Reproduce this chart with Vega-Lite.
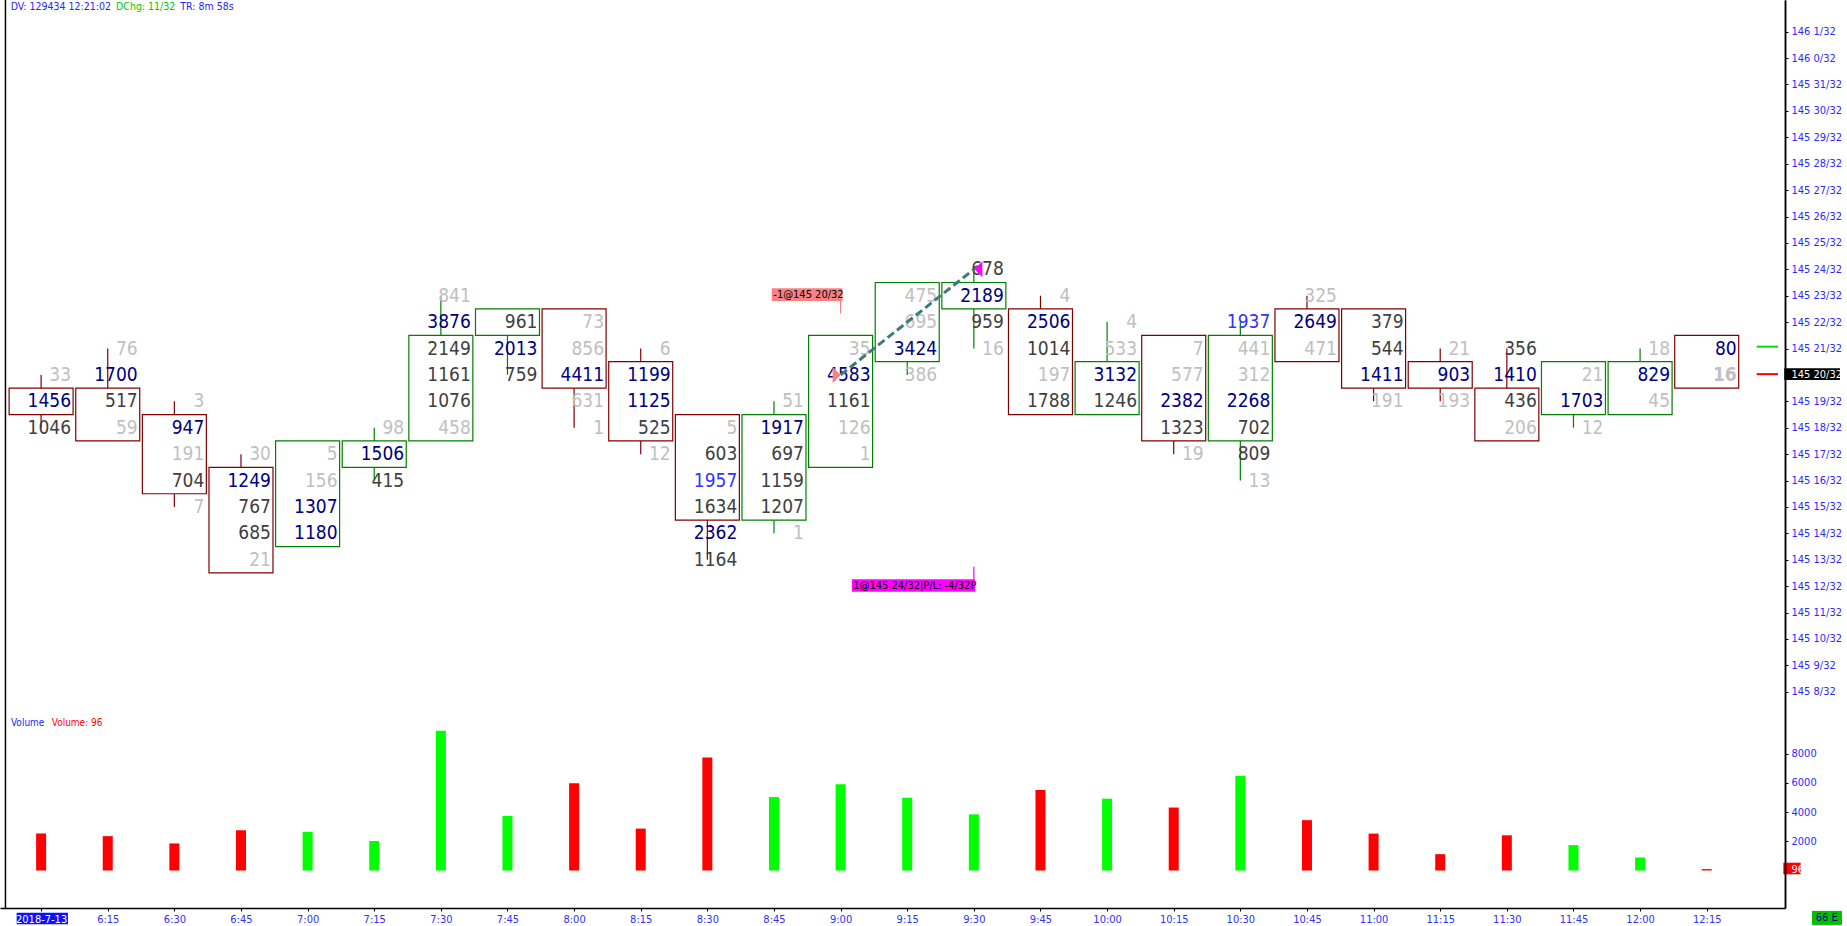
{
  "$schema": "https://vega.github.io/schema/vega-lite/v6.json",
  "width": 1785,
  "height": 908,
  "autosize": {"type": "none"},
  "padding": {"left": 0, "top": 0, "right": 62, "bottom": 18},
  "background": "white",
  "config": {
    "view": {"stroke": null},
    "font": "DejaVu Sans Condensed, DejaVu Sans",
    "axis": {"labelOverlap": false, "labelFlush": false, "grid": false, "title": null, "labelFont": "DejaVu Sans Condensed, DejaVu Sans", "labelFontSize": 11, "tickColor": "black", "domainColor": "black", "domainWidth": 1.5, "tickSize": 3}
  },
  "datasets": {
    "candles": [
      {"i":0,"t":"6:00","dir":"down","top":4659,"bot":4659,"hi":4660,"lo":4658,"vol":2535},
      {"i":1,"t":"6:15","dir":"down","top":4659,"bot":4658,"hi":4661,"lo":4658,"vol":2352},
      {"i":2,"t":"6:30","dir":"down","top":4658,"bot":4656,"hi":4659,"lo":4655,"vol":1852},
      {"i":3,"t":"6:45","dir":"down","top":4656,"bot":4653,"hi":4657,"lo":4653,"vol":2752},
      {"i":4,"t":"7:00","dir":"up","top":4657,"bot":4654,"hi":4657,"lo":4654,"vol":2648},
      {"i":5,"t":"7:15","dir":"up","top":4657,"bot":4657,"hi":4658,"lo":4656,"vol":2019},
      {"i":6,"t":"7:30","dir":"up","top":4661,"bot":4658,"hi":4663,"lo":4658,"vol":9561},
      {"i":7,"t":"7:45","dir":"up","top":4662,"bot":4662,"hi":4662,"lo":4660,"vol":3733},
      {"i":8,"t":"8:00","dir":"down","top":4662,"bot":4660,"hi":4662,"lo":4658,"vol":5972},
      {"i":9,"t":"8:15","dir":"down","top":4660,"bot":4658,"hi":4661,"lo":4657,"vol":2867},
      {"i":10,"t":"8:30","dir":"down","top":4658,"bot":4655,"hi":4658,"lo":4653,"vol":7725},
      {"i":11,"t":"8:45","dir":"up","top":4658,"bot":4655,"hi":4659,"lo":4654,"vol":5032},
      {"i":12,"t":"9:00","dir":"up","top":4661,"bot":4657,"hi":4661,"lo":4657,"vol":5906},
      {"i":13,"t":"9:15","dir":"up","top":4663,"bot":4661,"hi":4663,"lo":4660,"vol":4980},
      {"i":14,"t":"9:30","dir":"up","top":4663,"bot":4663,"hi":4664,"lo":4661,"vol":3842},
      {"i":15,"t":"9:45","dir":"down","top":4662,"bot":4659,"hi":4663,"lo":4659,"vol":5509},
      {"i":16,"t":"10:00","dir":"up","top":4660,"bot":4659,"hi":4662,"lo":4659,"vol":4915},
      {"i":17,"t":"10:15","dir":"down","top":4661,"bot":4658,"hi":4661,"lo":4657,"vol":4308},
      {"i":18,"t":"10:30","dir":"up","top":4661,"bot":4658,"hi":4662,"lo":4656,"vol":6482},
      {"i":19,"t":"10:45","dir":"down","top":4662,"bot":4661,"hi":4663,"lo":4661,"vol":3445},
      {"i":20,"t":"11:00","dir":"down","top":4662,"bot":4660,"hi":4662,"lo":4659,"vol":2525},
      {"i":21,"t":"11:15","dir":"down","top":4660,"bot":4660,"hi":4661,"lo":4659,"vol":1117},
      {"i":22,"t":"11:30","dir":"down","top":4659,"bot":4658,"hi":4661,"lo":4658,"vol":2408},
      {"i":23,"t":"11:45","dir":"up","top":4660,"bot":4659,"hi":4660,"lo":4658,"vol":1736},
      {"i":24,"t":"12:00","dir":"up","top":4660,"bot":4659,"hi":4661,"lo":4659,"vol":892},
      {"i":25,"t":"12:15","dir":"down","top":4661,"bot":4660,"hi":4661,"lo":4660,"vol":96}
    ],
    "cells": [
      {"i":0,"p":4660,"v":33,"c":"g"},{"i":0,"p":4659,"v":1456,"c":"n"},{"i":0,"p":4658,"v":1046,"c":"d"},
      {"i":1,"p":4661,"v":76,"c":"g"},{"i":1,"p":4660,"v":1700,"c":"n"},{"i":1,"p":4659,"v":517,"c":"d"},{"i":1,"p":4658,"v":59,"c":"g"},
      {"i":2,"p":4659,"v":3,"c":"g"},{"i":2,"p":4658,"v":947,"c":"n"},{"i":2,"p":4657,"v":191,"c":"g"},{"i":2,"p":4656,"v":704,"c":"d"},{"i":2,"p":4655,"v":7,"c":"g"},
      {"i":3,"p":4657,"v":30,"c":"g"},{"i":3,"p":4656,"v":1249,"c":"n"},{"i":3,"p":4655,"v":767,"c":"d"},{"i":3,"p":4654,"v":685,"c":"d"},{"i":3,"p":4653,"v":21,"c":"g"},
      {"i":4,"p":4657,"v":5,"c":"g"},{"i":4,"p":4656,"v":156,"c":"g"},{"i":4,"p":4655,"v":1307,"c":"n"},{"i":4,"p":4654,"v":1180,"c":"n"},
      {"i":5,"p":4658,"v":98,"c":"g"},{"i":5,"p":4657,"v":1506,"c":"n"},{"i":5,"p":4656,"v":415,"c":"d"},
      {"i":6,"p":4663,"v":841,"c":"g"},{"i":6,"p":4662,"v":3876,"c":"n"},{"i":6,"p":4661,"v":2149,"c":"d"},{"i":6,"p":4660,"v":1161,"c":"d"},{"i":6,"p":4659,"v":1076,"c":"d"},{"i":6,"p":4658,"v":458,"c":"g"},
      {"i":7,"p":4662,"v":961,"c":"d"},{"i":7,"p":4661,"v":2013,"c":"n"},{"i":7,"p":4660,"v":759,"c":"d"},
      {"i":8,"p":4662,"v":73,"c":"g"},{"i":8,"p":4661,"v":856,"c":"g"},{"i":8,"p":4660,"v":4411,"c":"n"},{"i":8,"p":4659,"v":631,"c":"g"},{"i":8,"p":4658,"v":1,"c":"g"},
      {"i":9,"p":4661,"v":6,"c":"g"},{"i":9,"p":4660,"v":1199,"c":"n"},{"i":9,"p":4659,"v":1125,"c":"n"},{"i":9,"p":4658,"v":525,"c":"d"},{"i":9,"p":4657,"v":12,"c":"g"},
      {"i":10,"p":4658,"v":5,"c":"g"},{"i":10,"p":4657,"v":603,"c":"d"},{"i":10,"p":4656,"v":1957,"c":"b"},{"i":10,"p":4655,"v":1634,"c":"d"},{"i":10,"p":4654,"v":2362,"c":"n"},{"i":10,"p":4653,"v":1164,"c":"d"},
      {"i":11,"p":4659,"v":51,"c":"g"},{"i":11,"p":4658,"v":1917,"c":"n"},{"i":11,"p":4657,"v":697,"c":"d"},{"i":11,"p":4656,"v":1159,"c":"d"},{"i":11,"p":4655,"v":1207,"c":"d"},{"i":11,"p":4654,"v":1,"c":"g"},
      {"i":12,"p":4661,"v":35,"c":"g"},{"i":12,"p":4660,"v":4583,"c":"n"},{"i":12,"p":4659,"v":1161,"c":"d"},{"i":12,"p":4658,"v":126,"c":"g"},{"i":12,"p":4657,"v":1,"c":"g"},
      {"i":13,"p":4663,"v":475,"c":"g"},{"i":13,"p":4662,"v":695,"c":"g"},{"i":13,"p":4661,"v":3424,"c":"n"},{"i":13,"p":4660,"v":386,"c":"g"},
      {"i":14,"p":4664,"v":678,"c":"d"},{"i":14,"p":4663,"v":2189,"c":"n"},{"i":14,"p":4662,"v":959,"c":"d"},{"i":14,"p":4661,"v":16,"c":"g"},
      {"i":15,"p":4663,"v":4,"c":"g"},{"i":15,"p":4662,"v":2506,"c":"n"},{"i":15,"p":4661,"v":1014,"c":"d"},{"i":15,"p":4660,"v":197,"c":"g"},{"i":15,"p":4659,"v":1788,"c":"d"},
      {"i":16,"p":4662,"v":4,"c":"g"},{"i":16,"p":4661,"v":533,"c":"g"},{"i":16,"p":4660,"v":3132,"c":"n"},{"i":16,"p":4659,"v":1246,"c":"d"},
      {"i":17,"p":4661,"v":7,"c":"g"},{"i":17,"p":4660,"v":577,"c":"g"},{"i":17,"p":4659,"v":2382,"c":"n"},{"i":17,"p":4658,"v":1323,"c":"d"},{"i":17,"p":4657,"v":19,"c":"g"},
      {"i":18,"p":4662,"v":1937,"c":"b"},{"i":18,"p":4661,"v":441,"c":"g"},{"i":18,"p":4660,"v":312,"c":"g"},{"i":18,"p":4659,"v":2268,"c":"n"},{"i":18,"p":4658,"v":702,"c":"d"},{"i":18,"p":4657,"v":809,"c":"d"},{"i":18,"p":4656,"v":13,"c":"g"},
      {"i":19,"p":4663,"v":325,"c":"g"},{"i":19,"p":4662,"v":2649,"c":"n"},{"i":19,"p":4661,"v":471,"c":"g"},
      {"i":20,"p":4662,"v":379,"c":"d"},{"i":20,"p":4661,"v":544,"c":"d"},{"i":20,"p":4660,"v":1411,"c":"n"},{"i":20,"p":4659,"v":191,"c":"g"},
      {"i":21,"p":4661,"v":21,"c":"g"},{"i":21,"p":4660,"v":903,"c":"n"},{"i":21,"p":4659,"v":193,"c":"g"},
      {"i":22,"p":4661,"v":356,"c":"d"},{"i":22,"p":4660,"v":1410,"c":"n"},{"i":22,"p":4659,"v":436,"c":"d"},{"i":22,"p":4658,"v":206,"c":"g"},
      {"i":23,"p":4660,"v":21,"c":"g"},{"i":23,"p":4659,"v":1703,"c":"n"},{"i":23,"p":4658,"v":12,"c":"g"},
      {"i":24,"p":4661,"v":18,"c":"g"},{"i":24,"p":4660,"v":829,"c":"n"},{"i":24,"p":4659,"v":45,"c":"g"},
      {"i":25,"p":4661,"v":80,"c":"n"},{"i":25,"p":4660,"v":16,"c":"x"}
    ],
    "trades": [
      {"i":12,"p":4660,"side":"sell","txt":"-1@145 20/32"},
      {"i":14,"p":4664,"side":"buy","txt":"1@145 24/32|P/L: -4/32P"}
    ]
  },
  "layer": [
    {
      "layer": [
        {
          "data": {"name": "candles"},
          "mark": {"type": "rule", "strokeWidth": 1.2},
          "encoding": {
            "x": {
              "field": "i", "type": "quantitative", "title": null,
              "scale": {"domain": [-0.542, 26.1], "nice": false, "zero": false},
              "axis": {
                "orient": "bottom", "title": null, "grid": false, "zindex": 1, "tickCount": 100,
                "values": [0,1,2,3,4,5,6,7,8,9,10,11,12,13,14,15,16,17,18,19,20,21,22,23,24,25],
                "labelExpr": "datum.value == 0 ? '2018-7-13' : (6 + floor(datum.value / 4)) + ':' + (datum.value % 4 == 0 ? '00' : '' + (datum.value % 4) * 15)",
                "labelColor": {"condition": {"test": "datum.value == 0", "value": "white"}, "value": "#3030ff"},
                "labelFont": "DejaVu Sans Condensed, DejaVu Sans", "labelFontSize": 11,
                "labelPadding": 2, "tickSize": 3, "tickColor": "black", "domainColor": "black", "domainWidth": 1.5,
                "labelFlush": false, "labelOverlap": false
              }
            },
            "y": {
              "field": "hi", "type": "quantitative", "title": null,
              "scale": {"domain": [4639.81, 4674.2], "nice": false, "zero": false},
              "axis": {
                "orient": "right", "title": null, "grid": false, "zindex": 1, "tickCount": 100,
                "values": [4648,4649,4650,4651,4652,4653,4654,4655,4656,4657,4658,4659,4660,4661,4662,4663,4664,4665,4666,4667,4668,4669,4670,4671,4672,4673],
                "labelExpr": "floor(datum.value / 32) + ' ' + (datum.value % 32) + '/32'",
                "labelColor": {"condition": {"test": "datum.value == 4660", "value": "white"}, "value": "#2a2aff"},
                "labelFont": "DejaVu Sans Condensed, DejaVu Sans", "labelFontSize": 11,
                "labelPadding": 3, "tickSize": 3, "tickColor": "black", "domainColor": "black", "domainWidth": 1.5,
                "labelFlush": false, "labelOverlap": false, "labelBaseline": "middle"
              }
            },
            "y2": {"field": "lo"},
            "stroke": {"field": "dir", "type": "nominal", "scale": {"domain": ["down", "up"], "range": ["#800000", "#008000"]}, "legend": null}
          }
        },
        {
          "data": {"values": [{"edge": "left"}]},
          "mark": {"type": "rule", "color": "black", "strokeWidth": 1.5},
          "encoding": {"x": {"datum": -0.535, "type": "quantitative", "title": null}}
        },
        {
          "data": {"name": "candles"},
          "mark": {"type": "rect", "fill": "white", "strokeWidth": 1.2, "xOffset": -32, "x2Offset": 32, "yOffset": -13.2, "y2Offset": 13.2},
          "encoding": {
            "x": {"field": "i", "type": "quantitative", "title": null},
            "x2": {"field": "i"},
            "y": {"field": "top", "type": "quantitative", "title": null},
            "y2": {"field": "bot"},
            "stroke": {"field": "dir", "type": "nominal", "legend": null}
          }
        },
        {
          "data": {"name": "cells"},
          "transform": [{"filter": "datum.c != 'x'"}],
          "mark": {"type": "text", "align": "right", "baseline": "middle", "dx": 30, "fontSize": 19, "font": "DejaVu Sans Condensed, DejaVu Sans"},
          "encoding": {
            "x": {"field": "i", "type": "quantitative", "title": null},
            "y": {"field": "p", "type": "quantitative", "title": null},
            "text": {"field": "v", "type": "quantitative", "format": "d"},
            "color": {"field": "c", "type": "nominal", "scale": {"domain": ["n", "d", "g", "b"], "range": ["#000080", "#404040", "#c0c0c0", "#3333ff"]}, "legend": null}
          }
        },
        {
          "data": {"name": "cells"},
          "transform": [{"filter": "datum.c == 'x'"}],
          "mark": {"type": "text", "align": "right", "baseline": "middle", "dx": 30, "fontSize": 19, "fontWeight": "bold", "color": "#c0c0c0", "font": "DejaVu Sans Condensed, DejaVu Sans"},
          "encoding": {
            "x": {"field": "i", "type": "quantitative", "title": null},
            "y": {"field": "p", "type": "quantitative", "title": null},
            "text": {"field": "v", "type": "quantitative", "format": "d"}
          }
        },
        {
          "data": {"name": "trades"},
          "mark": {"type": "line", "strokeDash": [8, 4], "strokeWidth": 3, "color": "#3d7b7b"},
          "encoding": {
            "x": {"field": "i", "type": "quantitative", "title": null},
            "y": {"field": "p", "type": "quantitative", "title": null},
            "order": {"field": "i"}
          }
        },
        {
          "data": {"name": "trades"},
          "transform": [{"filter": "datum.side == 'sell'"}],
          "mark": {"type": "point", "filled": true, "opacity": 1, "shape": "M -0.5 -1 L 0.5 0 L -0.5 1 Z", "size": 256, "color": "#f98181", "xOffset": -4},
          "encoding": {
            "x": {"field": "i", "type": "quantitative", "title": null},
            "y": {"field": "p", "type": "quantitative", "title": null}
          }
        },
        {
          "data": {"name": "trades"},
          "transform": [{"filter": "datum.side == 'buy'"}],
          "mark": {"type": "point", "filled": true, "opacity": 1, "shape": "M 0.5 -1 L -0.5 0 L 0.5 1 Z", "size": 256, "color": "#ff00ff", "xOffset": 4.5},
          "encoding": {
            "x": {"field": "i", "type": "quantitative", "title": null},
            "y": {"field": "p", "type": "quantitative", "title": null}
          }
        },
        {
          "data": {"values": [{"box": "sell"}]},
          "mark": {"type": "rect", "fill": "#f98181"},
          "encoding": {
            "x": {"datum": 10.966, "type": "quantitative", "title": null}, "x2": {"datum": 12.028},
            "y": {"datum": 4663.28, "type": "quantitative", "title": null}, "y2": {"datum": 4662.8}
          }
        },
        {
          "data": {"name": "trades"},
          "transform": [{"filter": "datum.side == 'sell'"}],
          "mark": {"type": "rule", "color": "#f98181", "strokeWidth": 1.2},
          "encoding": {
            "x": {"field": "i", "type": "quantitative", "title": null},
            "y": {"datum": 4662.8, "type": "quantitative", "title": null}, "y2": {"datum": 4662.33}
          }
        },
        {
          "data": {"name": "trades"},
          "transform": [{"filter": "datum.side == 'sell'"}],
          "mark": {"type": "text", "align": "left", "baseline": "middle", "fontSize": 11, "color": "black", "font": "DejaVu Sans Condensed, DejaVu Sans"},
          "encoding": {
            "x": {"datum": 10.99, "type": "quantitative", "title": null},
            "y": {"datum": 4663.04, "type": "quantitative", "title": null},
            "text": {"field": "txt"}
          }
        },
        {
          "data": {"values": [{"box": "buy"}]},
          "mark": {"type": "rect", "fill": "#ff00ff"},
          "encoding": {
            "x": {"datum": 12.17, "type": "quantitative", "title": null}, "x2": {"datum": 14.02},
            "y": {"datum": 4652.26, "type": "quantitative", "title": null}, "y2": {"datum": 4651.79}
          }
        },
        {
          "data": {"name": "trades"},
          "transform": [{"filter": "datum.side == 'buy'"}],
          "mark": {"type": "rule", "color": "#ff00ff", "strokeWidth": 1.2},
          "encoding": {
            "x": {"field": "i", "type": "quantitative", "title": null},
            "y": {"datum": 4652.73, "type": "quantitative", "title": null}, "y2": {"datum": 4652.26}
          }
        },
        {
          "data": {"name": "trades"},
          "transform": [{"filter": "datum.side == 'buy'"}],
          "mark": {"type": "text", "align": "left", "baseline": "middle", "fontSize": 11, "color": "black", "font": "DejaVu Sans Condensed, DejaVu Sans"},
          "encoding": {
            "x": {"datum": 12.19, "type": "quantitative", "title": null},
            "y": {"datum": 4652.02, "type": "quantitative", "title": null},
            "text": {"field": "txt"}
          }
        },
        {
          "data": {"values": [{"line": "ask"}]},
          "mark": {"type": "rule", "color": "#00e000", "strokeWidth": 2},
          "encoding": {
            "x": {"datum": 25.75, "type": "quantitative", "title": null}, "x2": {"datum": 26.07},
            "y": {"datum": 4661.07, "type": "quantitative", "title": null}
          }
        },
        {
          "data": {"values": [{"line": "bid"}]},
          "mark": {"type": "rule", "color": "#ff0000", "strokeWidth": 2},
          "encoding": {
            "x": {"datum": 25.75, "type": "quantitative", "title": null}, "x2": {"datum": 26.07},
            "y": {"datum": 4660.03, "type": "quantitative", "title": null}
          }
        },
        {
          "data": {"values": [{"badge": "last"}]},
          "mark": {"type": "rect", "fill": "black"},
          "encoding": {
            "x": {"datum": 26.164, "type": "quantitative", "title": null}, "x2": {"datum": 27.0},
            "y": {"datum": 4660.25, "type": "quantitative", "title": null}, "y2": {"datum": 4659.81}
          }
        },
        {
          "data": {"values": [{"badge": "date"}]},
          "mark": {"type": "rect", "fill": "#1010ff"},
          "encoding": {
            "x": {"datum": -0.367, "type": "quantitative", "title": null}, "x2": {"datum": 0.403},
            "y": {"datum": 4639.63, "type": "quantitative", "title": null}, "y2": {"datum": 4639.19}
          }
        },
        {
          "data": {"values": [{"badge": "e"}]},
          "mark": {"type": "rect", "fill": "#00c000"},
          "encoding": {
            "x": {"datum": 26.58, "type": "quantitative", "title": null}, "x2": {"datum": 27.03},
            "y": {"datum": 4639.7, "type": "quantitative", "title": null}, "y2": {"datum": 4639.17}
          }
        },
        {
          "data": {"values": [{"txt": "66 E"}]},
          "mark": {"type": "text", "align": "center", "baseline": "middle", "fontSize": 11, "color": "#000080", "font": "DejaVu Sans Condensed, DejaVu Sans"},
          "encoding": {
            "x": {"datum": 26.8, "type": "quantitative", "title": null},
            "y": {"datum": 4639.44, "type": "quantitative", "title": null},
            "text": {"field": "txt"}
          }
        },
        {
          "data": {"values": [{"txt": "DV: 129434 12:21:02"}]},
          "mark": {"type": "text", "align": "left", "baseline": "middle", "fontSize": 10.5, "color": "#2525ff", "font": "DejaVu Sans Condensed, DejaVu Sans"},
          "encoding": {
            "x": {"datum": -0.457, "type": "quantitative", "title": null},
            "y": {"datum": 4673.94, "type": "quantitative", "title": null},
            "text": {"field": "txt"}
          }
        },
        {
          "data": {"values": [{"txt": "DChg: 11/32"}]},
          "mark": {"type": "text", "align": "left", "baseline": "middle", "fontSize": 10.5, "color": "#00c800", "font": "DejaVu Sans Condensed, DejaVu Sans"},
          "encoding": {
            "x": {"datum": 1.125, "type": "quantitative", "title": null},
            "y": {"datum": 4673.94, "type": "quantitative", "title": null},
            "text": {"field": "txt"}
          }
        },
        {
          "data": {"values": [{"txt": "TR: 8m 58s"}]},
          "mark": {"type": "text", "align": "left", "baseline": "middle", "fontSize": 10.5, "color": "#2525ff", "font": "DejaVu Sans Condensed, DejaVu Sans"},
          "encoding": {
            "x": {"datum": 2.09, "type": "quantitative", "title": null},
            "y": {"datum": 4673.94, "type": "quantitative", "title": null},
            "text": {"field": "txt"}
          }
        }
      ]
    },
    {
      "layer": [
        {
          "data": {"name": "candles"},
          "mark": {"type": "bar", "width": 10},
          "encoding": {
            "x": {"field": "i", "type": "quantitative", "title": null},
            "y": {
              "field": "vol", "type": "quantitative", "title": null,
              "scale": {"domain": [-2565, 59554], "nice": false, "zero": false},
              "axis": {
                "orient": "right", "title": null, "grid": false, "zindex": 1, "tickCount": 100,
                "values": [96, 2000, 4000, 6000, 8000],
                "labelColor": {"condition": {"test": "datum.value == 96", "value": "white"}, "value": "#2a2aff"},
                "tickOpacity": {"condition": {"test": "datum.value == 96", "value": 0}, "value": 1},
                "labelFont": "DejaVu Sans Condensed, DejaVu Sans", "labelFontSize": 11, "format": "d",
                "labelPadding": 3, "tickSize": 3, "tickColor": "black", "domainColor": "black", "domainWidth": 1.5,
                "labelFlush": false, "labelOverlap": false, "labelBaseline": "middle"
              }
            },
            "y2": {"datum": 0},
            "fill": {"field": "dir", "type": "nominal", "scale": {"domain": ["down", "up"], "range": ["#ff0000", "#00ff00"]}, "legend": null}
          }
        },
        {
          "data": {"values": [{"badge": "vol"}]},
          "mark": {"type": "rect", "fill": "#ff0000"},
          "encoding": {
            "x": {"datum": 26.15, "type": "quantitative", "title": null}, "x2": {"datum": 26.41},
            "y": {"datum": 534, "type": "quantitative", "title": null}, "y2": {"datum": -260}
          }
        },
        {
          "data": {"values": [{"txt": "Volume"}]},
          "mark": {"type": "text", "align": "left", "baseline": "middle", "fontSize": 10, "color": "#2525ff", "font": "DejaVu Sans Condensed, DejaVu Sans"},
          "encoding": {
            "x": {"datum": -0.452, "type": "quantitative", "title": null},
            "y": {"datum": 10091, "type": "quantitative", "title": null},
            "text": {"field": "txt"}
          }
        },
        {
          "data": {"values": [{"txt": "Volume: 96"}]},
          "mark": {"type": "text", "align": "left", "baseline": "middle", "fontSize": 10, "color": "#ff0000", "font": "DejaVu Sans Condensed, DejaVu Sans"},
          "encoding": {
            "x": {"datum": 0.16, "type": "quantitative", "title": null},
            "y": {"datum": 10091, "type": "quantitative", "title": null},
            "text": {"field": "txt"}
          }
        }
      ]
    }
  ],
  "resolve": {"scale": {"y": "independent"}}
}
